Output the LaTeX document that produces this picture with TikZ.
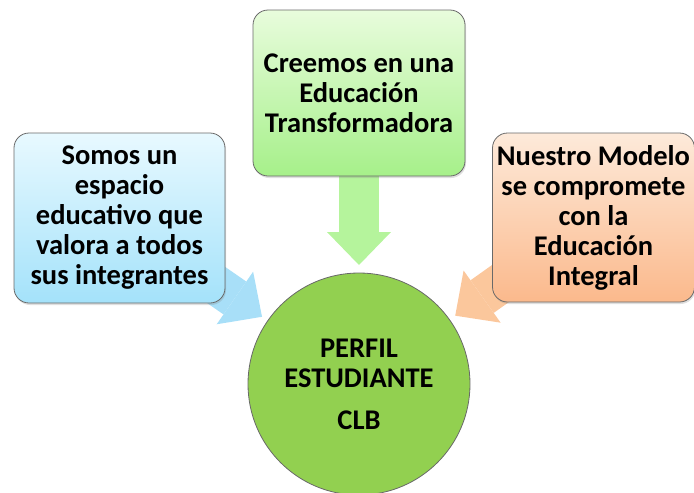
\documentclass[tikz,border=0pt]{standalone}
\usepackage{fontspec}
\setmainfont{Carlito}
\usepackage{tikz}
\usetikzlibrary{shapes,arrows.meta,positioning,calc,shadows}
\usepackage{xcolor}
\definecolor{boxblueT}{RGB}{232,249,255}
\definecolor{boxblueB}{RGB}{164,226,250}
\definecolor{boxgreenT}{RGB}{232,252,220}
\definecolor{boxgreenB}{RGB}{166,240,138}
\definecolor{boxorangeT}{RGB}{253,234,218}
\definecolor{boxorangeB}{RGB}{251,185,140}
\definecolor{arrblue}{RGB}{168,223,248}
\definecolor{arrgreen}{RGB}{181,244,156}
\definecolor{arrorange}{RGB}{251,199,156}
\definecolor{perfilgreen}{RGB}{146,208,80}
\definecolor{edgegray}{RGB}{105,105,105}

\begin{document}
\begin{tikzpicture}[
    x=1pt, y=-1pt,
    txt/.style={font=\fontsize{28.5}{30}\selectfont\bfseries, align=center, text=black, inner sep=0pt},
    box/.style={txt, rectangle, rounded corners=15pt, draw=edgegray, line width=0.8pt,
        drop shadow={opacity=0.25, shadow xshift=1pt, shadow yshift=-2pt}},
    boxb/.style={box, top color=boxblueT, bottom color=boxblueB},
    boxg/.style={box, top color=boxgreenT, bottom color=boxgreenB},
    boxo/.style={box, top color=boxorangeT, bottom color=boxorangeB},
    fat/.style={line width=40pt, -{Triangle[width=64pt,length=33pt,line width=0pt]}}
]
\useasboundingbox (0,0) rectangle (694,493);

% Boxes and center
\coordinate (cb) at (119.5,218);
\coordinate (cg) at (359,93);
\coordinate (co) at (593.5,217.5);
\coordinate (cp) at (359,384);

% Arrows (behind the boxes)
\draw[fat, arrblue] (cb) -- ($(cp)!118pt!(cb)$);
\draw[fat, arrgreen] (cg) -- ($(cp)!119pt!(cg)$);
\draw[fat, arrorange] (co) -- ($(cp)!118pt!(co)$);

% Boxes
\node[boxg, minimum width=212pt, minimum height=166pt] (educ) at (cg)
    {Creemos en una\\Educación\\Transformadora};
\node[boxb, minimum width=211pt, minimum height=170pt] (espacio) at (cb)
    {Somos un\\espacio\\educativo que\\valora a todos\\sus integrantes};
\node[boxo, minimum width=202pt, minimum height=169pt] (modelo) at (co)
    {Nuestro Modelo\\se compromete\\con la\\Educación\\Integral};

% Center
\node[txt, circle, draw=edgegray, line width=0.8pt, fill=perfilgreen, minimum size=222pt] (perfil) at (cp)
    {PERFIL\\ESTUDIANTE\\[12pt]CLB};

\end{tikzpicture}
\end{document}
